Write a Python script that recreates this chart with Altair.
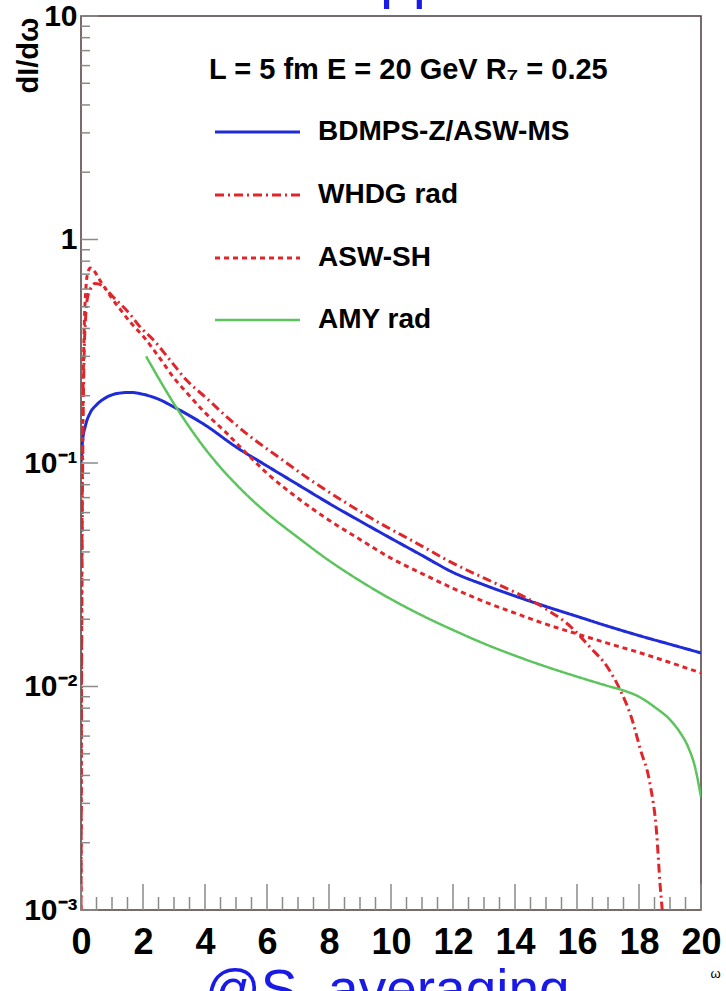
import altair as alt
import pandas as pd

# ---- data ----
x_bdmps = [0, 0.05, 0.15, 0.3, 0.5, 0.8, 1.2, 1.6, 2.0, 2.5, 3.0, 3.5, 4.0, 5.0, 6.0, 7.0,
           8.0, 9.0, 10, 11, 12, 13, 14, 15, 16, 17, 18, 19, 20]
y_bdmps = [0.1, 0.125, 0.148, 0.168, 0.182, 0.196, 0.205, 0.207, 0.203, 0.193, 0.178, 0.163,
           0.148, 0.118, 0.097, 0.08, 0.066, 0.055, 0.046, 0.0386, 0.0324, 0.0285, 0.0254,
           0.0228, 0.0206, 0.0186, 0.0169, 0.01545, 0.01413]

x_whdg = [0, 0.03, 0.06, 0.1, 0.15, 0.2, 0.3, 0.45, 0.6, 0.8, 1.0, 1.3, 1.6, 1.9, 2.3, 2.87,
          3.4, 4.05, 4.7, 5.5, 6.3, 7.4, 8.5, 9.65, 10.8, 11.9, 13.5, 14.3, 15.0, 15.8, 16.4,
          17.0, 17.4, 17.75, 18.05, 18.35, 18.57, 18.68, 18.75]
y_whdg = [0.001, 0.03, 0.12, 0.3, 0.45, 0.54, 0.6, 0.635, 0.63, 0.6, 0.56, 0.51, 0.46, 0.407,
          0.36, 0.289, 0.235, 0.195, 0.161, 0.13, 0.108, 0.084, 0.067, 0.0537, 0.044, 0.0362,
          0.0284, 0.0252, 0.0222, 0.0185, 0.0151, 0.0121, 0.0096, 0.0073, 0.0052, 0.0037,
          0.0022, 0.0013, 0.001]

x_aswsh = [0, 0.02, 0.05, 0.1, 0.15, 0.2, 0.3, 0.4, 0.6, 0.8, 1.0, 1.3, 1.6, 2.0, 2.5, 3.0,
           3.5, 4.0, 4.7, 5.35, 6, 7, 8, 9, 10, 11, 12, 13, 14, 15, 16, 17, 18, 19, 20]
y_aswsh = [0.001, 0.02, 0.12, 0.38, 0.58, 0.69, 0.745, 0.73, 0.66, 0.6, 0.545, 0.48, 0.425,
           0.37, 0.3, 0.24, 0.2, 0.168, 0.136, 0.11, 0.09, 0.0695, 0.0555, 0.0455, 0.0375,
           0.032, 0.0275, 0.024, 0.0213, 0.019, 0.0172, 0.0156, 0.0142, 0.0128, 0.0115]

x_amy = [2.1, 2.5, 3.0, 3.5, 4.0, 4.5, 5.0, 5.5, 6.0, 7.0, 8.0, 9.0, 10, 11, 12, 13, 14, 15,
         16, 17, 17.5, 18, 18.5, 19, 19.3, 19.6, 19.8, 20]
y_amy = [0.300, 0.240, 0.184, 0.1445, 0.116, 0.0955, 0.0804, 0.0687, 0.0596, 0.0464, 0.0366,
         0.0297, 0.0246, 0.0208, 0.0179, 0.01556, 0.01374, 0.01227, 0.01107, 0.01005, 0.0096,
         0.0090, 0.0081, 0.0071, 0.0063, 0.0053, 0.0044, 0.0032]

series_names = ["BDMPS-Z/ASW-MS", "WHDG rad", "ASW-SH", "AMY rad"]
series_x = [x_bdmps, x_whdg, x_aswsh, x_amy]
series_y = [y_bdmps, y_whdg, y_aswsh, y_amy]
series_colors = ["#1f2bd6", "#e0262b", "#e0262b", "#5cc45c"]
series_dash = [[1, 0], [9, 4, 2, 4], [5, 4], [1, 0]]
series_width = [3, 3, 3, 2.5]

x_major = list(range(0, 21, 2))
x_minor = [i * 0.5 for i in range(41) if i % 4 != 0]
y_major = [0.001, 0.01, 0.1, 1, 10]
y_minor = [m * 10.0 ** e for e in range(-3, 1) for m in range(2, 10)]

header = "L = 5 fm E = 20 GeV R\u2087 = 0.25"

W, H = 620, 894
FONT = "Liberation Sans"

xscale = alt.Scale(domain=[0, 20], nice=False, zero=False)
yscale = alt.Scale(type="log", domain=[0.001, 10], nice=False)

y_label_expr = ("datum.value >= 10 ? '10' : datum.value >= 1 ? '1' : "
                "datum.value >= 0.1 ? '10\u207b\u00b9' : datum.value >= 0.01 ? '10\u207b\u00b2' : '10\u207b\u00b3'")

x_axis = alt.Axis(values=x_major, ticks=False, domain=False, grid=False, labelFont=FONT,
                  labelFontWeight="bold", labelFontSize=36, labelColor="black", labelPadding=15,
                  labelFlush=False, labelOverlap=False, title="\u03c9", titleFont=FONT,
                  titleFontSize=13, titleFontWeight="normal", titleX=634, titleY=63,
                  titleAlign="center", titleBaseline="middle", titleColor="black")
y_axis = alt.Axis(values=y_major, labelExpr=y_label_expr, ticks=False, domain=False, grid=False,
                  labelFont=FONT, labelFontWeight="bold", labelFontSize=30, labelColor="black",
                  labelPadding=4, labelFlush=False, labelOverlap=False, title="dI/d\u03c9",
                  titleFont=FONT, titleFontSize=29, titleFontWeight="bold", titleAngle=270,
                  titleAlign="right", titleBaseline="alphabetic", titleX=-44, titleY=1,
                  titleColor="black")

layers = []
for i, (name, xs, ys) in enumerate(zip(series_names, series_x, series_y)):
    df = pd.DataFrame({"x": xs, "y": ys})
    layers.append(
        alt.Chart(df).mark_line(color=series_colors[i], strokeDash=series_dash[i],
                                strokeWidth=series_width[i], interpolate="monotone", clip=True)
        .encode(x=alt.X("x:Q", scale=xscale, axis=x_axis),
                y=alt.Y("y:Q", scale=yscale, axis=y_axis))
    )

# inward ticks (ROOT style)
tick_color = "#8a8a8a"
layers.append(alt.Chart(pd.DataFrame({"x": x_major})).mark_rule(color=tick_color, strokeWidth=1.5)
              .encode(x=alt.X("x:Q", scale=xscale, axis=x_axis), y=alt.value(H - 26), y2=alt.value(H)))
layers.append(alt.Chart(pd.DataFrame({"x": x_minor})).mark_rule(color=tick_color, strokeWidth=1.5)
              .encode(x=alt.X("x:Q", scale=xscale, axis=x_axis), y=alt.value(H - 13), y2=alt.value(H)))
layers.append(alt.Chart(pd.DataFrame({"y": y_major})).mark_rule(color=tick_color, strokeWidth=1.5)
              .encode(y=alt.Y("y:Q", scale=yscale, axis=y_axis), x=alt.value(0), x2=alt.value(17)))
layers.append(alt.Chart(pd.DataFrame({"y": y_minor})).mark_rule(color=tick_color, strokeWidth=1.5)
              .encode(y=alt.Y("y:Q", scale=yscale, axis=y_axis), x=alt.value(0), x2=alt.value(9)))

# header text
layers.append(alt.Chart(pd.DataFrame({"t": [header]})).mark_text(
    font=FONT, fontWeight="bold", fontSize=29, align="left", baseline="middle", color="black")
    .encode(text="t:N", x=alt.value(128), y=alt.value(54)))

# legend
legend_rows = [116, 179, 242, 304]
for i, name in enumerate(series_names):
    dfl = pd.DataFrame({"t": [name]})
    layers.append(alt.Chart(dfl).mark_rule(color=series_colors[i], strokeDash=series_dash[i],
                                           strokeWidth=series_width[i])
                  .encode(x=alt.value(134), x2=alt.value(219), y=alt.value(legend_rows[i])))
    layers.append(alt.Chart(dfl).mark_text(font=FONT, fontWeight="bold", fontSize=28, align="left",
                                           baseline="middle", color="black")
                  .encode(text="t:N", x=alt.value(237), y=alt.value(legend_rows[i])))

# cut-off slide text in blue (top and bottom edges of the picture)
blue = "#1a1ae6"
layers.append(alt.Chart(pd.DataFrame({"t": ["pp"]})).mark_text(
    font=FONT, fontSize=59, align="left", baseline="alphabetic", color=blue)
    .encode(text="t:N", x=alt.value(299), y=alt.value(-19)))
layers.append(alt.Chart(pd.DataFrame({"t": ["@S\u00a0 averaging"]})).mark_text(
    font=FONT, fontSize=55, align="left", baseline="alphabetic", color=blue)
    .encode(text="t:N", x=alt.value(124), y=alt.value(992)))

chart = alt.layer(*layers).properties(
    width=W, height=H,
    autosize=alt.AutoSizeParams(type="none"),
    padding={"left": 81, "top": 16, "right": 25, "bottom": 81},
    background="white",
).configure_view(stroke="#4d3b3b", strokeWidth=1.5)

chart.save("out.html", embed_options={"renderer": "svg", "actions": False})
